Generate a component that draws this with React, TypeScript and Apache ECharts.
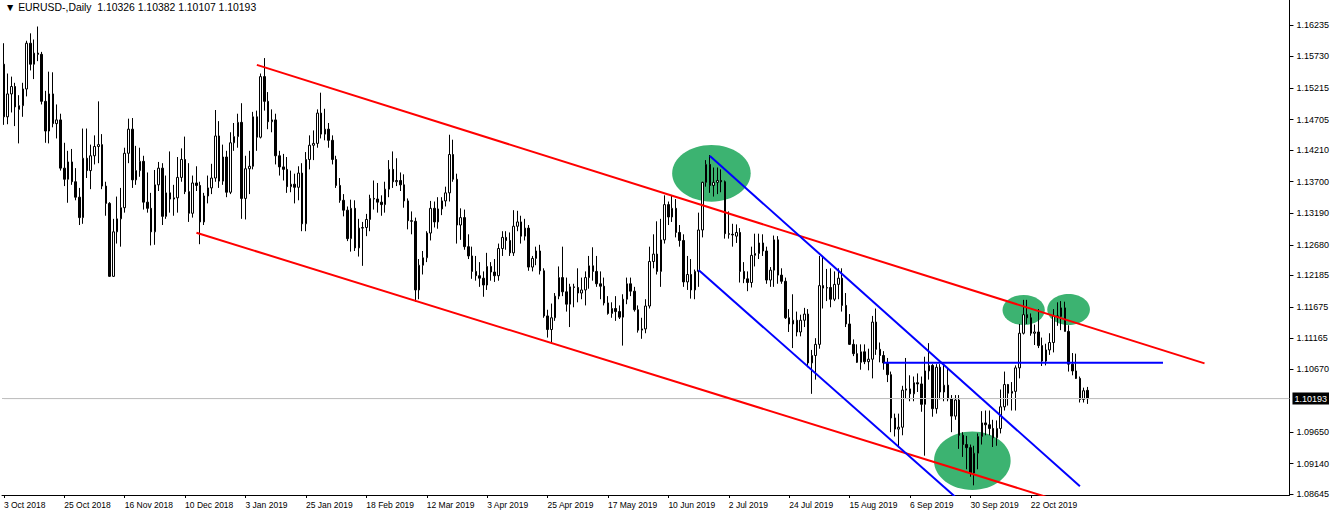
import React, { useEffect, useRef } from "react";
import * as echarts from "echarts";

// ---------- data ----------
const FIRST_DAY = [2018, 9, 3]; // 3 Oct 2018 (month 0-based)
const HOLIDAYS = ["2018-12-25", "2019-01-01"];
const SLOTS = 341; // visible bar slots incl. right shift
const LABEL_STEP = 16;
const HEADER = "\u25BC EURUSD-,Daily  1.10326 1.10382 1.10107 1.10193";
const LAST_PRICE = 1.10193;

// daily bars: [open, high, low, close]
const ohlc: number[][] = [
  [1.1560, 1.1594, 1.1462, 1.1475], [1.1475, 1.1545, 1.1463, 1.1512], [1.1512, 1.1540, 1.1482, 1.1524], [1.1524, 1.1530, 1.1460, 1.1491],
  [1.1487, 1.1510, 1.1432, 1.1493], [1.1493, 1.1530, 1.1475, 1.1520], [1.1520, 1.1598, 1.1508, 1.1594], [1.1594, 1.1610, 1.1550, 1.1560],
  [1.1560, 1.1600, 1.1536, 1.1578], [1.1578, 1.1621, 1.1565, 1.1576], [1.1576, 1.1580, 1.1495, 1.1500], [1.1500, 1.1517, 1.1433, 1.1452],
  [1.1452, 1.1548, 1.1432, 1.1512], [1.1512, 1.1547, 1.1458, 1.1464], [1.1464, 1.1495, 1.1440, 1.1470], [1.1470, 1.1480, 1.1388, 1.1392],
  [1.1392, 1.1433, 1.1363, 1.1374], [1.1374, 1.1420, 1.1336, 1.1402], [1.1402, 1.1423, 1.1365, 1.1370], [1.1370, 1.1392, 1.1340, 1.1345],
  [1.1345, 1.1360, 1.1300, 1.1312], [1.1312, 1.1456, 1.1302, 1.1408], [1.1408, 1.1456, 1.1376, 1.1388], [1.1388, 1.1430, 1.1358, 1.1412],
  [1.1412, 1.1445, 1.1398, 1.1427], [1.1427, 1.1500, 1.1400, 1.1430], [1.1430, 1.1447, 1.1358, 1.1363], [1.1363, 1.1370, 1.1315, 1.1335],
  [1.1335, 1.1337, 1.1216, 1.1217], [1.1217, 1.1310, 1.1216, 1.1289], [1.1289, 1.1346, 1.1270, 1.1310], [1.1310, 1.1360, 1.1265, 1.1328],
  [1.1328, 1.1425, 1.1320, 1.1416], [1.1416, 1.1472, 1.1400, 1.1455], [1.1455, 1.1473, 1.1360, 1.1373], [1.1373, 1.1428, 1.1365, 1.1388],
  [1.1388, 1.1425, 1.1378, 1.1403], [1.1403, 1.1412, 1.1325, 1.1337], [1.1337, 1.1385, 1.1320, 1.1327], [1.1327, 1.1352, 1.1267, 1.1289],
  [1.1289, 1.1389, 1.1268, 1.1365], [1.1365, 1.1402, 1.1355, 1.1392], [1.1392, 1.1400, 1.1300, 1.1314], [1.1314, 1.1380, 1.1310, 1.1352],
  [1.1352, 1.1419, 1.1320, 1.1342], [1.1342, 1.1365, 1.1315, 1.1344], [1.1344, 1.1410, 1.1320, 1.1377], [1.1377, 1.1424, 1.1370, 1.1406],
  [1.1406, 1.1443, 1.1350, 1.1354], [1.1354, 1.1400, 1.1305, 1.1319], [1.1319, 1.1380, 1.1312, 1.1368], [1.1368, 1.1395, 1.1355, 1.1364],
  [1.1364, 1.1370, 1.1269, 1.1305], [1.1305, 1.1352, 1.1300, 1.1347], [1.1347, 1.1380, 1.1335, 1.1360], [1.1360, 1.1399, 1.1350, 1.1376],
  [1.1376, 1.1486, 1.1370, 1.1444], [1.1444, 1.1468, 1.1360, 1.1371], [1.1371, 1.1430, 1.1365, 1.1410], [1.1410, 1.1420, 1.1345, 1.1353],
  [1.1353, 1.1450, 1.1350, 1.1433], [1.1433, 1.1465, 1.1420, 1.1443], [1.1443, 1.1480, 1.1425, 1.1466], [1.1466, 1.1497, 1.1310, 1.1343],
  [1.1343, 1.1412, 1.1309, 1.1391], [1.1391, 1.1420, 1.1350, 1.1395], [1.1395, 1.1483, 1.1390, 1.1475], [1.1475, 1.1485, 1.1420, 1.1442],
  [1.1442, 1.1545, 1.1440, 1.1540], [1.1540, 1.1570, 1.1485, 1.1500], [1.1500, 1.1515, 1.1455, 1.1467], [1.1467, 1.1487, 1.1450, 1.1470],
  [1.1470, 1.1480, 1.1398, 1.1412], [1.1412, 1.1420, 1.1380, 1.1394], [1.1394, 1.1415, 1.1372, 1.1390], [1.1390, 1.1410, 1.1352, 1.1362],
  [1.1362, 1.1388, 1.1353, 1.1366], [1.1366, 1.1383, 1.1335, 1.1361], [1.1361, 1.1395, 1.1340, 1.1384], [1.1384, 1.1400, 1.1290, 1.1302],
  [1.1302, 1.1418, 1.1290, 1.1406], [1.1406, 1.1445, 1.1390, 1.1429], [1.1429, 1.1453, 1.1405, 1.1432], [1.1432, 1.1487, 1.1425, 1.1481],
  [1.1481, 1.1514, 1.1440, 1.1447], [1.1447, 1.1488, 1.1437, 1.1455], [1.1455, 1.1465, 1.1425, 1.1437], [1.1437, 1.1445, 1.1398, 1.1406],
  [1.1406, 1.1412, 1.1360, 1.1364], [1.1364, 1.1376, 1.1336, 1.1340], [1.1340, 1.1350, 1.1314, 1.1324], [1.1324, 1.1330, 1.1274, 1.1278],
  [1.1278, 1.1341, 1.1257, 1.1327], [1.1327, 1.1340, 1.1258, 1.1263], [1.1263, 1.1310, 1.1249, 1.1295], [1.1295, 1.1305, 1.1234, 1.1296],
  [1.1296, 1.1318, 1.1282, 1.1309], [1.1309, 1.1349, 1.1290, 1.1343], [1.1343, 1.1372, 1.1325, 1.1342], [1.1342, 1.1368, 1.1320, 1.1337],
  [1.1337, 1.1348, 1.1315, 1.1333], [1.1333, 1.1370, 1.1320, 1.1358], [1.1358, 1.1405, 1.1345, 1.1390], [1.1390, 1.1419, 1.1360, 1.1370],
  [1.1370, 1.1408, 1.1363, 1.1372], [1.1372, 1.1385, 1.1355, 1.1365], [1.1365, 1.1382, 1.1328, 1.1339], [1.1339, 1.1343, 1.1293, 1.1307],
  [1.1307, 1.1322, 1.1285, 1.1306], [1.1306, 1.1312, 1.1176, 1.1195], [1.1195, 1.1245, 1.1180, 1.1235], [1.1235, 1.1258, 1.1220, 1.1247],
  [1.1247, 1.1290, 1.1240, 1.1287], [1.1287, 1.1339, 1.1275, 1.1327], [1.1327, 1.1338, 1.1296, 1.1305], [1.1305, 1.1345, 1.1294, 1.1326],
  [1.1326, 1.1345, 1.1316, 1.1339], [1.1339, 1.1362, 1.1330, 1.1352], [1.1352, 1.1446, 1.1338, 1.1414], [1.1414, 1.1438, 1.1370, 1.1374],
  [1.1374, 1.1383, 1.1270, 1.1300], [1.1300, 1.1327, 1.1276, 1.1312], [1.1312, 1.1325, 1.1260, 1.1265], [1.1265, 1.1285, 1.1245, 1.1250],
  [1.1250, 1.1265, 1.1213, 1.1225], [1.1225, 1.1250, 1.1210, 1.1218], [1.1218, 1.1240, 1.1200, 1.1214], [1.1214, 1.1225, 1.1184, 1.1203],
  [1.1203, 1.1255, 1.1195, 1.1233], [1.1233, 1.1240, 1.1210, 1.1224], [1.1224, 1.1245, 1.1208, 1.1218], [1.1218, 1.1270, 1.1210, 1.1262],
  [1.1262, 1.1290, 1.1250, 1.1280], [1.1280, 1.1290, 1.1260, 1.1275], [1.1275, 1.1288, 1.1250, 1.1255], [1.1255, 1.1324, 1.1250, 1.1298],
  [1.1298, 1.1323, 1.1290, 1.1305], [1.1305, 1.1315, 1.1270, 1.1282], [1.1282, 1.1310, 1.1275, 1.1295], [1.1295, 1.1300, 1.1226, 1.1232],
  [1.1232, 1.1250, 1.1225, 1.1246], [1.1246, 1.1265, 1.1235, 1.1258], [1.1258, 1.1268, 1.1220, 1.1226], [1.1226, 1.1230, 1.1150, 1.1153],
  [1.1153, 1.1163, 1.1118, 1.1131], [1.1131, 1.1173, 1.1110, 1.1150], [1.1150, 1.1190, 1.1145, 1.1185], [1.1185, 1.1233, 1.1180, 1.1215],
  [1.1215, 1.1265, 1.1185, 1.1192], [1.1192, 1.1215, 1.1160, 1.1172], [1.1172, 1.1205, 1.1135, 1.1200], [1.1200, 1.1205, 1.1167, 1.1199],
  [1.1199, 1.1230, 1.1175, 1.1190], [1.1190, 1.1215, 1.1180, 1.1195], [1.1195, 1.1225, 1.1170, 1.1215], [1.1215, 1.1250, 1.1197, 1.1234],
  [1.1234, 1.1264, 1.1210, 1.1225], [1.1225, 1.1250, 1.1200, 1.1205], [1.1205, 1.1225, 1.1180, 1.1201], [1.1201, 1.1215, 1.1170, 1.1174],
  [1.1174, 1.1185, 1.1155, 1.1157], [1.1157, 1.1175, 1.1150, 1.1165], [1.1165, 1.1185, 1.1145, 1.1160], [1.1160, 1.1170, 1.1148, 1.1151],
  [1.1151, 1.1188, 1.1105, 1.1180], [1.1180, 1.1215, 1.1172, 1.1205], [1.1205, 1.1215, 1.1185, 1.1193], [1.1193, 1.1200, 1.1160, 1.1163],
  [1.1163, 1.1170, 1.1126, 1.1130], [1.1130, 1.1150, 1.1116, 1.1132], [1.1132, 1.1180, 1.1125, 1.1169], [1.1169, 1.1265, 1.1165, 1.1241],
  [1.1241, 1.1285, 1.1230, 1.1253], [1.1253, 1.1306, 1.1220, 1.1225], [1.1225, 1.1310, 1.1200, 1.1276], [1.1276, 1.1348, 1.1270, 1.1333],
  [1.1333, 1.1338, 1.1300, 1.1313], [1.1313, 1.1347, 1.1305, 1.1327], [1.1327, 1.1342, 1.1280, 1.1288], [1.1288, 1.1300, 1.1265, 1.1275],
  [1.1275, 1.1285, 1.1200, 1.1208], [1.1208, 1.1250, 1.1195, 1.1220], [1.1220, 1.1245, 1.1181, 1.1195], [1.1195, 1.1228, 1.1180, 1.1225],
  [1.1225, 1.1320, 1.1200, 1.1292], [1.1292, 1.1370, 1.1280, 1.1369], [1.1369, 1.1405, 1.1362, 1.1398], [1.1398, 1.1413, 1.1352, 1.1364],
  [1.1364, 1.1393, 1.1346, 1.1369], [1.1369, 1.1393, 1.1350, 1.1372], [1.1372, 1.1390, 1.1353, 1.1370], [1.1370, 1.1372, 1.1278, 1.1286],
  [1.1286, 1.1322, 1.1278, 1.1285], [1.1285, 1.1302, 1.1265, 1.1284], [1.1282, 1.1301, 1.1271, 1.1288], [1.1288, 1.1295, 1.1207, 1.1225],
  [1.1225, 1.1240, 1.1206, 1.1213], [1.1213, 1.1225, 1.1193, 1.1207], [1.1207, 1.1265, 1.1199, 1.1251], [1.1251, 1.1286, 1.1233, 1.1254],
  [1.1254, 1.1286, 1.1245, 1.1271], [1.1271, 1.1285, 1.1250, 1.1258], [1.1258, 1.1265, 1.1205, 1.1211], [1.1211, 1.1232, 1.1200, 1.1227],
  [1.1227, 1.1283, 1.1200, 1.1276], [1.1276, 1.1282, 1.1205, 1.1219], [1.1219, 1.1230, 1.1205, 1.1209], [1.1209, 1.1215, 1.1148, 1.1150],
  [1.1150, 1.1164, 1.1127, 1.1140], [1.1140, 1.1188, 1.1101, 1.1146], [1.1146, 1.1160, 1.1120, 1.1127], [1.1127, 1.1155, 1.1120, 1.1146],
  [1.1146, 1.1166, 1.1135, 1.1156], [1.1156, 1.1164, 1.1070, 1.1077], [1.1077, 1.1098, 1.1027, 1.1089], [1.1089, 1.1117, 1.1050, 1.1107],
  [1.1107, 1.1250, 1.1100, 1.1202], [1.1202, 1.1249, 1.1165, 1.1198], [1.1198, 1.1229, 1.1177, 1.1199], [1.1199, 1.1230, 1.1167, 1.1180],
  [1.1180, 1.1225, 1.1177, 1.1204], [1.1204, 1.1230, 1.1180, 1.1214], [1.1214, 1.1230, 1.1160, 1.1170], [1.1170, 1.1190, 1.1135, 1.1140],
  [1.1140, 1.1156, 1.1106, 1.1107], [1.1107, 1.1115, 1.1088, 1.1092], [1.1092, 1.1107, 1.1077, 1.1078], [1.1078, 1.1107, 1.1066, 1.1095],
  [1.1095, 1.1107, 1.1075, 1.1079], [1.1079, 1.1100, 1.1065, 1.1083], [1.1083, 1.1153, 1.1052, 1.1143], [1.1143, 1.1165, 1.1090, 1.1099],
  [1.1099, 1.1110, 1.1078, 1.1089], [1.1089, 1.1096, 1.1066, 1.1077], [1.1077, 1.1085, 1.1046, 1.1058], [1.1058, 1.1063, 1.0965, 1.0988],
  [1.0988, 1.0995, 1.0958, 1.0970], [1.0970, 1.0995, 1.0940, 1.0973], [1.0973, 1.1040, 1.0960, 1.1033], [1.1033, 1.1085, 1.1020, 1.1035],
  [1.1035, 1.1057, 1.1015, 1.1027], [1.1027, 1.1055, 1.1015, 1.1045], [1.1045, 1.1060, 1.1030, 1.1043], [1.1043, 1.1055, 1.0998, 1.1010],
  [1.1010, 1.1087, 1.0927, 1.1064], [1.1064, 1.1109, 1.1050, 1.1073], [1.1073, 1.1075, 1.0990, 1.1003], [1.1003, 1.1075, 1.0995, 1.1070],
  [1.1070, 1.1075, 1.1018, 1.1030], [1.1030, 1.1075, 1.1015, 1.1041], [1.1041, 1.1068, 1.1015, 1.1019], [1.1019, 1.1025, 1.0965, 1.0991],
  [1.0991, 1.1025, 1.0985, 1.1017], [1.1017, 1.1025, 1.0938, 1.0960], [1.0960, 1.0965, 1.0925, 1.0945], [1.0945, 1.0959, 1.0905, 1.0940],
  [1.0940, 1.0945, 1.0893, 1.0899], [1.0899, 1.0943, 1.0879, 1.0931], [1.0931, 1.0963, 1.0905, 1.0958], [1.0958, 1.0999, 1.0945, 1.0980],
  [1.0980, 1.1000, 1.0960, 1.0977], [1.0977, 1.1000, 1.0960, 1.0971], [1.0971, 1.0985, 1.0941, 1.0956], [1.0956, 1.0984, 1.0943, 1.0971],
  [1.0971, 1.1034, 1.0963, 1.1006], [1.1006, 1.1063, 1.1000, 1.1042], [1.1042, 1.1043, 1.1008, 1.1028], [1.1028, 1.1046, 1.1000, 1.1031],
  [1.1031, 1.1073, 1.1000, 1.1069], [1.1069, 1.1140, 1.1052, 1.1125], [1.1125, 1.1179, 1.1123, 1.1155], [1.1155, 1.1179, 1.1140, 1.1150],
  [1.1150, 1.1157, 1.1121, 1.1125], [1.1125, 1.1139, 1.1106, 1.1127], [1.1127, 1.1164, 1.1101, 1.1105], [1.1105, 1.1118, 1.1072, 1.1080],
  [1.1080, 1.1108, 1.1073, 1.1098], [1.1098, 1.1125, 1.1090, 1.1110], [1.1110, 1.1164, 1.1094, 1.1153], [1.1153, 1.1175, 1.1137, 1.1152],
  [1.1152, 1.1177, 1.1130, 1.1166], [1.1166, 1.1176, 1.1128, 1.1128], [1.1128, 1.1138, 1.1063, 1.1075], [1.1075, 1.1093, 1.1057, 1.1064],
  [1.1064, 1.1092, 1.1051, 1.1052], [1.1052, 1.1055, 1.1013, 1.1018], [1.1018, 1.1037, 1.1013, 1.1032], [1.10326, 1.10382, 1.10107, 1.10193],
];

// price scale tick labels (right axis)
const yTicks = [1.08645, 1.0914, 1.0965, 1.1067, 1.11165, 1.11675, 1.12185, 1.1268, 1.1319, 1.137, 1.1421, 1.14705, 1.15215, 1.1573, 1.16235];
const Y_MIN = 1.08634;
const Y_MAX = 1.16639;

// trend lines: [[barIndex, price], [barIndex, price]]
const redLines = [
  [[67, 1.1559], [318, 1.10762]],
  [[51, 1.12876], [290, 1.08339]],
];
const blueLines = [
  [[187, 1.14116], [285, 1.08774]],
  [[184, 1.12273], [260, 1.08171]],
  [[233, 1.10773], [307, 1.10773]],
];
// ellipses: [centerBar, centerPrice, barOffset, radiusBars, radiusPrice]
const ellipses = [
  [187, 1.13836, 0.4, 10.4, 0.00458],
  [256, 1.09187, 0.5, 10.15, 0.00472],
  [270, 1.11626, 0.1, 5.6, 0.00243],
  [282, 1.11634, 0.0, 5.65, 0.00251],
];

const MONTHS = ["Jan", "Feb", "Mar", "Apr", "May", "Jun", "Jul", "Aug", "Sep", "Oct", "Nov", "Dec"];

function buildDates(n: number): string[] {
  const out: string[] = [];
  const d = new Date(Date.UTC(FIRST_DAY[0], FIRST_DAY[1], FIRST_DAY[2]));
  while (out.length < n) {
    const dow = d.getUTCDay();
    const iso = d.toISOString().slice(0, 10);
    if (dow !== 0 && dow !== 6 && HOLIDAYS.indexOf(iso) < 0) {
      out.push(`${d.getUTCDate()} ${MONTHS[d.getUTCMonth()]} ${d.getUTCFullYear()}`);
    }
    d.setUTCDate(d.getUTCDate() + 1);
  }
  return out;
}

const FONT = "Liberation Sans, Arial, sans-serif";

export default function App() {
  const ref = useRef<HTMLDivElement>(null);

  useEffect(() => {
    if (!ref.current) return;
    const chart = echarts.init(ref.current, undefined, { renderer: "svg" });
    const dates = buildDates(ohlc.length);
    const categories = dates.concat(
      Array.from({ length: SLOTS - dates.length }, (_, k) => `pad${k}`)
    );
    const showLabel = (i: number) => i % LABEL_STEP === 0 && i < dates.length;

    const lineSeries = (pts: number[][], color: string) => ({
      type: "line",
      data: pts,
      symbol: "none",
      silent: true,
      clip: true,
      z: 5,
      lineStyle: { color, width: 2 },
    });

    chart.setOption({
      animation: false,
      backgroundColor: "#ffffff",
      title: {
        text: HEADER,
        left: 5,
        top: 2,
        padding: 0,
        textStyle: { fontSize: 10.4, fontWeight: "normal", color: "#000", fontFamily: FONT },
      },
      grid: { left: 2, right: 42, top: 0, bottom: 21 },
      xAxis: {
        type: "category",
        data: categories,
        boundaryGap: true,
        axisLine: { show: true, lineStyle: { color: "#000", width: 1 } },
        axisTick: {
          show: true,
          alignWithLabel: true,
          interval: (i: number) => showLabel(i),
          length: 3,
          lineStyle: { color: "#000" },
        },
        axisLabel: {
          interval: (i: number) => showLabel(i),
          align: "left",
          fontSize: 8.5,
          color: "#000",
          fontFamily: FONT,
          margin: 5,
        },
        splitLine: { show: false },
      },
      yAxis: {
        type: "value",
        position: "right",
        min: Y_MIN,
        max: Y_MAX,
        axisLine: { show: true, lineStyle: { color: "#000", width: 1 } },
        axisTick: { show: true, customValues: yTicks, length: 4, lineStyle: { color: "#000" } },
        axisLabel: {
          customValues: yTicks,
          formatter: (v: number) => v.toFixed(5),
          fontSize: 9,
          color: "#000",
          fontFamily: FONT,
          margin: 7,
        },
        splitLine: { show: false },
      },
      series: [
        {
          type: "custom",
          z: 1,
          silent: true,
          data: ellipses,
          renderItem: (_p: any, api: any) => {
            const c = api.coord([api.value(0), api.value(1)]);
            const c1 = api.coord([api.value(0) + 1, api.value(1) + api.value(4)]);
            const bw = c1[0] - c[0];
            const ry = Math.abs(c[1] - c1[1]);
            return {
              type: "ellipse",
              shape: { cx: c[0] + api.value(2) * bw, cy: c[1], rx: api.value(3) * bw, ry },
              style: { fill: "#3cb371" },
            };
          },
        },
        {
          type: "line",
          data: [[0, LAST_PRICE], [SLOTS - 1, LAST_PRICE]],
          symbol: "none",
          silent: true,
          z: 2,
          lineStyle: { color: "#c0c0c0", width: 1 },
          markLine: {
            silent: true,
            symbol: "none",
            precision: 5,
            data: [{ yAxis: LAST_PRICE }],
            lineStyle: { color: "#c0c0c0", width: 1, type: "solid" },
            label: {
              position: "end",
              distance: 3,
              formatter: () => LAST_PRICE.toFixed(5),
              backgroundColor: "#000",
              color: "#fff",
              padding: [2, 2, 1, 2],
              fontSize: 9,
              fontFamily: FONT,
            },
          },
        },
        {
          type: "candlestick",
          z: 3,
          barWidth: 2,
          data: ohlc.map(([o, h, l, c]) => [o, c, l, h]),
          itemStyle: {
            color: "#ffffff",
            color0: "#000000",
            borderColor: "#000000",
            borderColor0: "#000000",
            borderWidth: 1,
          },
        },
        ...redLines.map((l) => lineSeries(l, "#ff0000")),
        ...blueLines.map((l) => lineSeries(l, "#0000ff")),
      ],
    });
    return () => chart.dispose();
  }, []);

  return (
    <div
      ref={ref}
      style={{ position: "fixed", left: 0, top: 0, width: 1332, height: 516, background: "#fff" }}
    />
  );
}
